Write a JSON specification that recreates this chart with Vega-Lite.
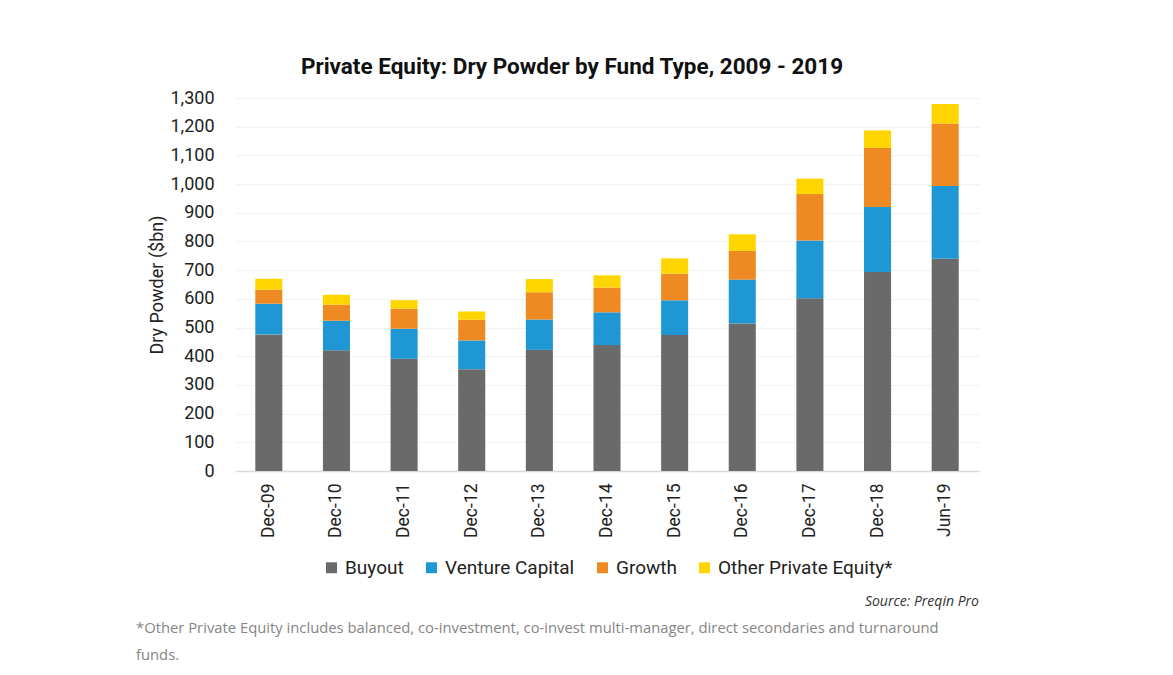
{
  "$schema": "https://vega.github.io/schema/vega-lite/v6.json",
  "background": "white",
  "padding": {"left": 135, "top": 55, "right": 5, "bottom": 5},
  "config": {"view": {"stroke": null}, "font": "Roboto", "legend": {"layout": {"bottom": {"anchor": "middle"}}}},
  "title": {
    "text": [" *Other Private Equity includes balanced, co-investment, co-invest multi-manager, direct secondaries and turnaround", "funds."],
    "orient": "bottom", "anchor": "start", "font": "Open Sans", "fontSize": 14.8, "fontWeight": "normal",
    "color": "#858585", "lineHeight": 27, "offset": 12, "dx": -13
  },
  "resolve": {"scale": {"color": "independent"}, "legend": {"color": "independent"}},
  "vconcat": [{
    "title": {
      "text": "Source: Preqin Pro", "orient": "bottom", "anchor": "end", "font": "Open Sans",
      "fontStyle": "italic", "fontSize": 14, "fontWeight": "normal", "color": "#333333", "offset": 17
    },
    "resolve": {"scale": {"color": "independent"}, "legend": {"color": "independent"}},
    "vconcat": [{
      "title": {
        "text": "Private Equity: Dry Powder by Fund Type, 2009 - 2019",
        "font": "Roboto", "fontSize": 22.5, "fontWeight": "bold", "color": "#111111", "anchor": "middle",
        "frame": "bounds", "dx": 8, "offset": 11
      },
      "width": 744,
      "height": 373,
      "data": {"values": [
        {"period": "Dec-09", "type": "Buyout", "value": 476},
        {"period": "Dec-09", "type": "Venture Capital", "value": 107},
        {"period": "Dec-09", "type": "Growth", "value": 49},
        {"period": "Dec-09", "type": "Other Private Equity*", "value": 38},
        {"period": "Dec-10", "type": "Buyout", "value": 421},
        {"period": "Dec-10", "type": "Venture Capital", "value": 103},
        {"period": "Dec-10", "type": "Growth", "value": 55},
        {"period": "Dec-10", "type": "Other Private Equity*", "value": 35},
        {"period": "Dec-11", "type": "Buyout", "value": 391},
        {"period": "Dec-11", "type": "Venture Capital", "value": 105},
        {"period": "Dec-11", "type": "Growth", "value": 70},
        {"period": "Dec-11", "type": "Other Private Equity*", "value": 29},
        {"period": "Dec-12", "type": "Buyout", "value": 355},
        {"period": "Dec-12", "type": "Venture Capital", "value": 100},
        {"period": "Dec-12", "type": "Growth", "value": 72},
        {"period": "Dec-12", "type": "Other Private Equity*", "value": 29},
        {"period": "Dec-13", "type": "Buyout", "value": 422},
        {"period": "Dec-13", "type": "Venture Capital", "value": 106},
        {"period": "Dec-13", "type": "Growth", "value": 95},
        {"period": "Dec-13", "type": "Other Private Equity*", "value": 46},
        {"period": "Dec-14", "type": "Buyout", "value": 439},
        {"period": "Dec-14", "type": "Venture Capital", "value": 114},
        {"period": "Dec-14", "type": "Growth", "value": 86},
        {"period": "Dec-14", "type": "Other Private Equity*", "value": 43},
        {"period": "Dec-15", "type": "Buyout", "value": 474},
        {"period": "Dec-15", "type": "Venture Capital", "value": 121},
        {"period": "Dec-15", "type": "Growth", "value": 93},
        {"period": "Dec-15", "type": "Other Private Equity*", "value": 53},
        {"period": "Dec-16", "type": "Buyout", "value": 514},
        {"period": "Dec-16", "type": "Venture Capital", "value": 153},
        {"period": "Dec-16", "type": "Growth", "value": 100},
        {"period": "Dec-16", "type": "Other Private Equity*", "value": 58},
        {"period": "Dec-17", "type": "Buyout", "value": 602},
        {"period": "Dec-17", "type": "Venture Capital", "value": 201},
        {"period": "Dec-17", "type": "Growth", "value": 162},
        {"period": "Dec-17", "type": "Other Private Equity*", "value": 54},
        {"period": "Dec-18", "type": "Buyout", "value": 694},
        {"period": "Dec-18", "type": "Venture Capital", "value": 226},
        {"period": "Dec-18", "type": "Growth", "value": 206},
        {"period": "Dec-18", "type": "Other Private Equity*", "value": 61},
        {"period": "Jun-19", "type": "Buyout", "value": 740},
        {"period": "Jun-19", "type": "Venture Capital", "value": 253},
        {"period": "Jun-19", "type": "Growth", "value": 218},
        {"period": "Jun-19", "type": "Other Private Equity*", "value": 68}
      ]},
      "transform": [
        {"calculate": "indexof(['Buyout', 'Venture Capital', 'Growth', 'Other Private Equity*'], datum.type)", "as": "stackOrder"}
      ],
      "mark": {"type": "bar"},
      "encoding": {
        "x": {
          "field": "period", "type": "nominal", "sort": null,
          "scale": {"paddingInner": 0.6, "paddingOuter": 0.3},
          "axis": {
            "title": null, "labelAngle": -90, "labelFontSize": 17.5, "labelColor": "#222222",
            "labelPadding": 12, "ticks": false, "domainColor": "#d9d9d9", "domainWidth": 1.5,
            "labelFont": "Roboto"
          }
        },
        "y": {
          "field": "value", "type": "quantitative", "stack": "zero",
          "scale": {"domain": [0, 1300], "nice": false},
          "axis": {
            "title": "Dry Powder ($bn)", "titleFontSize": 18, "titleFontWeight": "normal", "titleColor": "#222222",
            "titlePadding": 3, "values": [0,100,200,300,400,500,600,700,800,900,1000,1100,1200,1300],
            "format": ",d", "labelFontSize": 18, "labelColor": "#222222", "labelPadding": 21,
            "ticks": false, "domain": false, "gridColor": "#f2f2f2", "gridWidth": 1
          }
        },
        "order": {"field": "stackOrder", "type": "quantitative", "sort": "ascending"},
        "color": {
          "field": "type", "type": "nominal",
          "sort": ["Buyout", "Venture Capital", "Growth", "Other Private Equity*"],
          "scale": {
            "domain": ["Buyout", "Venture Capital", "Growth", "Other Private Equity*"],
            "range": ["#6a6a6a", "#1f97d4", "#ef8a22", "#ffd500"]
          },
          "legend": {
            "title": null, "orient": "bottom", "direction": "horizontal", "symbolType": "square",
            "symbolSize": 120, "labelFontSize": 19, "labelColor": "#222222", "columnPadding": 18,
            "symbolStrokeWidth": 0, "offset": 20, "labelOffset": 4, "labelLimit": 400
          }
        }
      }
    }]
  }]
}
